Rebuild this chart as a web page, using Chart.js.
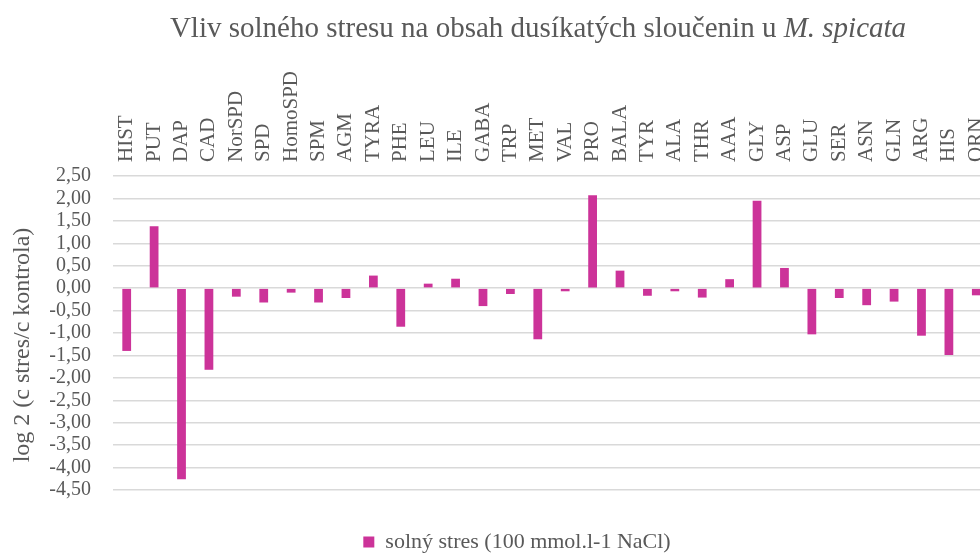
<!DOCTYPE html>
<html>
<head>
<meta charset="utf-8">
<script src="https://cdn.jsdelivr.net/npm/chart.js@4/dist/chart.umd.min.js"></script>
<style>
  html, body { margin: 0; padding: 0; background: #fff; overflow: hidden; }
  #wrap { position: relative; width: 980px; height: 553px; overflow: hidden; }
  #chart { position: absolute; left: 0; top: 0; }
  #title {
    position: absolute; left: 0; top: 13px; width: 1076px; text-align: center;
    font: 29px "Liberation Serif", "Times New Roman", serif; line-height: 29px;
    color: #595959; white-space: nowrap;
  }
  #ytitle {
    position: absolute; left: -128px; top: 331px; width: 300px; height: 28px;
    text-align: center; line-height: 28px; white-space: nowrap;
    font: 24px "Liberation Serif", "Times New Roman", serif;
    color: #595959; transform: rotate(-90deg); transform-origin: 150px 14px;
  }
</style>
</head>
<body>
<div id="wrap">
  <canvas id="chart" width="1034" height="563"></canvas>
  <div id="title">Vliv solného stresu na obsah dusíkatých sloučenin u <i>M. spicata</i></div>
  <div id="ytitle">log 2 (c stres/c kontrola)</div>
</div>
<script>
"use strict";
const compounds = ["HIST", "PUT", "DAP", "CAD", "NorSPD", "SPD", "HomoSPD", "SPM", "AGM", "TYRA",
  "PHE", "LEU", "ILE", "GABA", "TRP", "MET", "VAL", "PRO", "BALA", "TYR", "ALA", "THR", "AAA",
  "GLY", "ASP", "GLU", "SER", "ASN", "GLN", "ARG", "HIS", "ORN"];
const saltStress = [-1.40, 1.38, -4.26, -1.82, -0.19, -0.32, -0.10, -0.32, -0.22, 0.28,
  -0.86, 0.10, 0.21, -0.40, -0.13, -1.14, -0.07, 2.07, 0.39, -0.17, -0.07, -0.21, 0.20,
  1.95, 0.45, -1.03, -0.22, -0.38, -0.30, -1.06, -1.49, -0.16];
const seriesName = "solný stres (100 mmol.l-1 NaCl)";
const yMin = -4.5, yMax = 2.5, yStep = 0.5;

const SERIF = "'Liberation Serif', 'Times New Roman', serif";
const TEXT = "#595959";
const BAR = "#CC3399";
const X_FONT = 21;

new Chart(document.getElementById("chart").getContext("2d"), {
  type: "bar",
  data: {
    labels: compounds,
    datasets: [{
      label: seriesName,
      data: saltStress,
      backgroundColor: BAR,
      borderWidth: 0,
      categoryPercentage: 1,
      barPercentage: 0.32
    }]
  },
  options: {
    responsive: false,
    animation: false,
    layout: { padding: { left: 44, right: 44, top: 0, bottom: 0 } },
    plugins: {
      title: { display: false },
      tooltip: { enabled: false },
      legend: {
        position: "bottom",
        labels: {
          boxWidth: 11, boxHeight: 11, padding: 41,
          color: TEXT, font: { family: SERIF, size: 22 }
        }
      }
    },
    scales: {
      x: {
        position: "top",
        grid: { display: false, drawTicks: false },
        border: { display: false },
        ticks: {
          autoSkip: false, minRotation: 90, maxRotation: 90, padding: 14,
          // top axis + 90° rotation puts labels one line height to the left
          labelOffset: X_FONT * 1.2,
          color: TEXT, font: { family: SERIF, size: X_FONT }
        },
        afterFit: s => { s.height = 176; }
      },
      y: {
        min: yMin, max: yMax,
        grid: { color: "#d9d9d9", lineWidth: 1.5, drawTicks: false },
        border: { display: false },
        ticks: {
          stepSize: yStep, autoSkip: false, padding: 22, color: TEXT,
          font: { family: SERIF, size: 20 },
          callback: v => v.toFixed(2).replace(".", ",")
        },
        afterFit: s => { s.width = 69; }
      }
    }
  }
});
</script>
</body>
</html>
